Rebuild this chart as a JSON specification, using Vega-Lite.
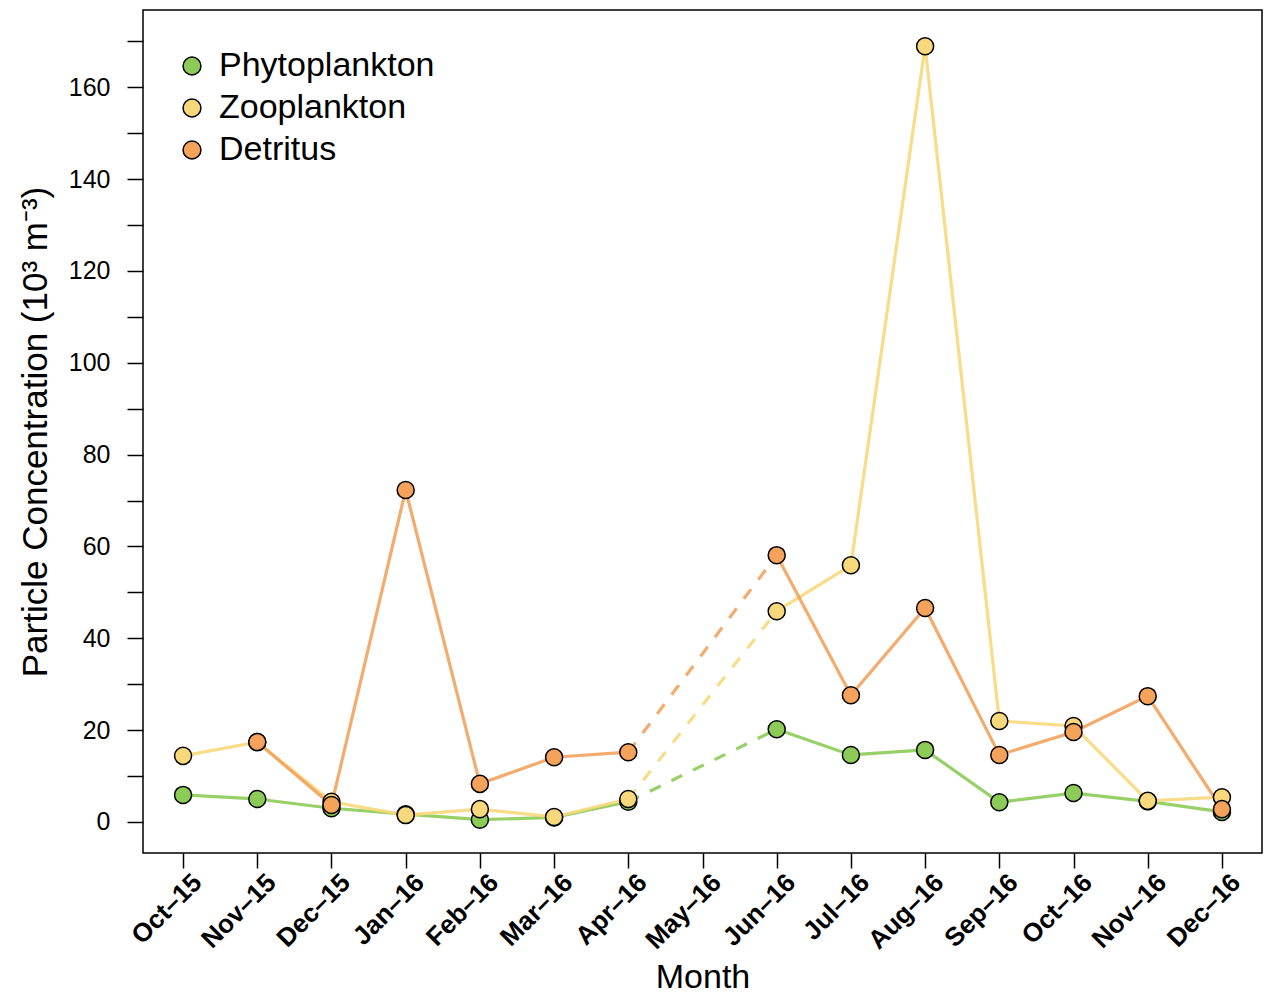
{
  "$schema": "https://vega.github.io/schema/vega-lite/v6.json",
  "width": 1119,
  "height": 843,
  "autosize": "none",
  "padding": {"left": 143, "top": 10, "right": 2, "bottom": 145},
  "background": "white",
  "config": {
    "font": "Liberation Sans",
    "view": {"stroke": "black", "strokeWidth": 1.5}
  },
  "data": {
    "values": [
      {"month": "Oct–15", "series": "Phytoplankton", "value": 5.9, "period": "A"},
      {"month": "Nov–15", "series": "Phytoplankton", "value": 5.0, "period": "A"},
      {"month": "Dec–15", "series": "Phytoplankton", "value": 3.0, "period": "A"},
      {"month": "Jan–16", "series": "Phytoplankton", "value": 1.7, "period": "A"},
      {"month": "Feb–16", "series": "Phytoplankton", "value": 0.5, "period": "A"},
      {"month": "Mar–16", "series": "Phytoplankton", "value": 1.0, "period": "A"},
      {"month": "Apr–16", "series": "Phytoplankton", "value": 4.4, "period": "A"},
      {"month": "Jun–16", "series": "Phytoplankton", "value": 20.2, "period": "B"},
      {"month": "Jul–16", "series": "Phytoplankton", "value": 14.6, "period": "B"},
      {"month": "Aug–16", "series": "Phytoplankton", "value": 15.7, "period": "B"},
      {"month": "Sep–16", "series": "Phytoplankton", "value": 4.3, "period": "B"},
      {"month": "Oct–16", "series": "Phytoplankton", "value": 6.3, "period": "B"},
      {"month": "Nov–16", "series": "Phytoplankton", "value": 4.5, "period": "B"},
      {"month": "Dec–16", "series": "Phytoplankton", "value": 2.2, "period": "B"},
      {"month": "Oct–15", "series": "Zooplankton", "value": 14.4, "period": "A"},
      {"month": "Nov–15", "series": "Zooplankton", "value": 17.4, "period": "A"},
      {"month": "Dec–15", "series": "Zooplankton", "value": 4.4, "period": "A"},
      {"month": "Jan–16", "series": "Zooplankton", "value": 1.5, "period": "A"},
      {"month": "Feb–16", "series": "Zooplankton", "value": 2.8, "period": "A"},
      {"month": "Mar–16", "series": "Zooplankton", "value": 1.1, "period": "A"},
      {"month": "Apr–16", "series": "Zooplankton", "value": 5.0, "period": "A"},
      {"month": "Jun–16", "series": "Zooplankton", "value": 45.9, "period": "B"},
      {"month": "Jul–16", "series": "Zooplankton", "value": 55.9, "period": "B"},
      {"month": "Aug–16", "series": "Zooplankton", "value": 168.9, "period": "B"},
      {"month": "Sep–16", "series": "Zooplankton", "value": 22.0, "period": "B"},
      {"month": "Oct–16", "series": "Zooplankton", "value": 20.9, "period": "B"},
      {"month": "Nov–16", "series": "Zooplankton", "value": 4.6, "period": "B"},
      {"month": "Dec–16", "series": "Zooplankton", "value": 5.4, "period": "B"},
      {"month": "Nov–15", "series": "Detritus", "value": 17.4, "period": "A"},
      {"month": "Dec–15", "series": "Detritus", "value": 3.7, "period": "A"},
      {"month": "Jan–16", "series": "Detritus", "value": 72.3, "period": "A"},
      {"month": "Feb–16", "series": "Detritus", "value": 8.3, "period": "A"},
      {"month": "Mar–16", "series": "Detritus", "value": 14.1, "period": "A"},
      {"month": "Apr–16", "series": "Detritus", "value": 15.2, "period": "A"},
      {"month": "Jun–16", "series": "Detritus", "value": 58.1, "period": "B"},
      {"month": "Jul–16", "series": "Detritus", "value": 27.6, "period": "B"},
      {"month": "Aug–16", "series": "Detritus", "value": 46.6, "period": "B"},
      {"month": "Sep–16", "series": "Detritus", "value": 14.6, "period": "B"},
      {"month": "Oct–16", "series": "Detritus", "value": 19.6, "period": "B"},
      {"month": "Nov–16", "series": "Detritus", "value": 27.4, "period": "B"},
      {"month": "Dec–16", "series": "Detritus", "value": 2.8, "period": "B"}
    ]
  },
  "encoding": {
    "x": {
      "field": "month",
      "type": "ordinal",
      "sort": null,
      "scale": {
        "type": "point",
        "padding": 0.54,
        "domain": ["Oct–15", "Nov–15", "Dec–15", "Jan–16", "Feb–16", "Mar–16", "Apr–16", "May–16", "Jun–16", "Jul–16", "Aug–16", "Sep–16", "Oct–16", "Nov–16", "Dec–16"]
      },
      "axis": {
        "title": "Month",
        "titleFontSize": 34,
        "titleFontWeight": "normal",
        "titleColor": "black",
        "titlePadding": 7,
        "domain": false,
        "tickColor": "black",
        "tickSize": 15,
        "tickWidth": 1.5,
        "labelAngle": -45,
        "labelAlign": "right",
        "labelBaseline": "middle",
        "labelFontSize": 26,
        "labelFontWeight": "bold",
        "labelColor": "black",
        "labelPadding": 10,
        "labelOffset": 14
      }
    },
    "y": {
      "field": "value",
      "type": "quantitative",
      "scale": {"domain": [-6.75, 176.8], "nice": false, "zero": false},
      "axis": {
        "title": "Particle Concentration (10³ m⁻³)",
        "titleFontSize": 35,
        "titleFontWeight": "normal",
        "titleColor": "black",
        "titlePadding": 15,
        "domain": false,
        "grid": false,
        "values": [0, 10, 20, 30, 40, 50, 60, 70, 80, 90, 100, 110, 120, 130, 140, 150, 160, 170],
        "labelExpr": "datum.value % 20 == 0 ? datum.label : ''",
        "tickColor": "black",
        "tickSize": 16,
        "tickWidth": 1.5,
        "labelFontSize": 25,
        "labelColor": "black",
        "labelPadding": 17
      }
    }
  },
  "layer": [
    {
      "mark": {"type": "line", "strokeWidth": 3.2, "opacity": 0.9},
      "encoding": {
        "stroke": {
          "field": "series",
          "type": "nominal",
          "scale": {"domain": ["Detritus", "Zooplankton", "Phytoplankton"], "range": ["#F2A25E", "#F7D87A", "#8DCB58"]},
          "legend": null
        },
        "detail": {"field": "period"}
      }
    },
    {
      "transform": [{"filter": "datum.month == 'Apr–16' || datum.month == 'Jun–16'"}],
      "mark": {"type": "line", "strokeWidth": 3.2, "strokeDash": [12, 12], "opacity": 0.9},
      "encoding": {
        "stroke": {"field": "series", "type": "nominal", "legend": null}
      }
    },
    {
      "mark": {"type": "point", "shape": "circle", "filled": true, "size": 290, "stroke": "black", "strokeWidth": 1.5, "opacity": 1},
      "encoding": {
        "fill": {
          "field": "series",
          "type": "nominal",
          "scale": {"domain": ["Phytoplankton", "Zooplankton", "Detritus"], "range": ["#8DCB58", "#F7D87A", "#F5A25A"]},
          "legend": {
            "title": null,
            "orient": "none",
            "legendX": 32,
            "legendY": 39,
            "padding": 0,
            "symbolType": "circle",
            "symbolSize": 320,
            "symbolStrokeColor": "black",
            "symbolStrokeWidth": 1.5,
            "symbolOpacity": 1,
            "labelFontSize": 34,
            "labelColor": "black",
            "labelOffset": 10,
            "labelLimit": 400,
            "rowPadding": 8
          }
        }
      }
    }
  ]
}
